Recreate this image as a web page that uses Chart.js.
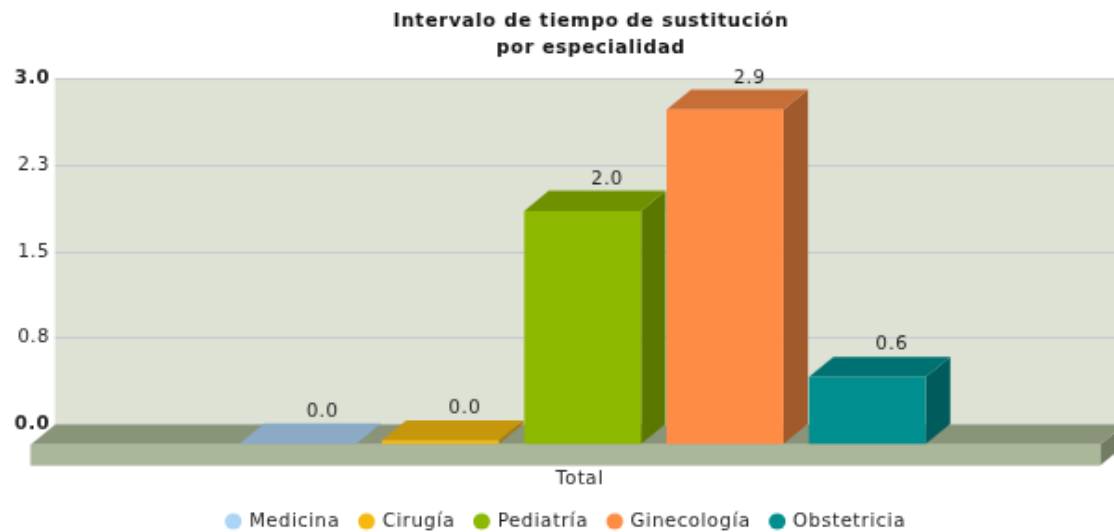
<!DOCTYPE html>
<html><head><meta charset="utf-8">
<style>html,body{margin:0;padding:0;background:#fff;overflow:hidden}canvas{display:block;filter:blur(0.5px)}</style>
<script src="https://cdn.jsdelivr.net/npm/chart.js@4"></script>
</head><body>
<canvas id="c" width="600" height="300"></canvas>
<script>
const categories = ['Total'];
const seriesNames = ['Medicina', 'Cirugía', 'Pediatría', 'Ginecología', 'Obstetricia'];
const medicina = [0.01];
const cirugia = [0.04];
const pediatria = [2.03];
const ginecologia = [2.91];
const obstetricia = [0.59];
const yTickLabels = ['0.0', '0.8', '1.5', '2.3', '3.0'];
const titleLines = ['Intervalo de tiempo de sustitución', 'por especialidad'];

const frontColors = ['#ABD5F7', '#F7B90F', '#8DB800', '#FF8C45', '#008E8E'];
const topColors = ['#8AAAC6', '#C6960C', '#6F9100', '#C76D36', '#007171'];
const sideColors = ['#6E8AA3', '#A07A0A', '#5A7700', '#A05A2B', '#005C5C'];

const DX = 13.2, DY = 11.3, SHIFT = -1;

function poly(ctx, color, pts) {
  ctx.fillStyle = color; ctx.beginPath();
  pts.forEach((p, i) => i ? ctx.lineTo(p[0], p[1]) : ctx.moveTo(p[0], p[1]));
  ctx.closePath(); ctx.fill();
}

const scene = {
  id: 'scene',
  beforeUpdate(chart) {
    chart.ctx.letterSpacing = '0.55px';
  },
  afterLayout(chart) {
    chart.titleBlock.left += 18.3; chart.titleBlock.right += 18.3;
    chart.legend.left += 5; chart.legend.right += 5;
  },
  beforeDraw(chart) {
    const { ctx, chartArea: a } = chart;
    ctx.save();
    ctx.fillStyle = '#fff'; ctx.fillRect(0, 0, chart.width, chart.height);
    ctx.fillStyle = '#DDE2D5'; ctx.fillRect(a.left, a.top, a.right - a.left, a.bottom - a.top);
    ctx.restore();
  },
  beforeDatasetsDraw(chart) {
    const { ctx, chartArea: a } = chart;
    const fl = a.left - DX, fr = a.right - 7.6, ft = a.bottom + DY, fb = ft + 11.8;
    ctx.save();
    poly(ctx, '#8A9479', [[fl, ft], [a.left, a.bottom], [fr + DX, a.bottom], [fr, ft]]);
    poly(ctx, '#737C63', [[fr, ft], [fr + DX, a.bottom], [fr + DX, a.bottom + 11.8], [fr, fb]]);
    ctx.fillStyle = '#ABB799'; ctx.fillRect(fl, ft, fr - fl, fb - ft);
    ctx.restore();
    ctx.save();
    ctx.translate(SHIFT, DY);
    chart.data.datasets.forEach((d, i) => {
      chart.getDatasetMeta(i).data.forEach(el => {
        const l = el.x - el.width / 2, r = el.x + el.width / 2;
        poly(ctx, sideColors[i], [[r, el.y], [r + DX, el.y - DY], [r + DX, el.base - DY], [r, el.base]]);
        poly(ctx, topColors[i], [[l, el.y], [l + DX, el.y - DY], [r + DX, el.y - DY], [r, el.y]]);
      });
    });
  },
  afterDatasetsDraw(chart) {
    const { ctx } = chart;
    ctx.restore();
    ctx.save();
    ctx.font = '10px "DejaVu Sans"'; ctx.fillStyle = '#222';
    ctx.textAlign = 'center'; ctx.textBaseline = 'middle';
    chart.data.datasets.forEach((d, i) => {
      chart.getDatasetMeta(i).data.forEach((el, j) => {
        ctx.fillText(d.data[j].toFixed(1), el.x + SHIFT + DX, el.y - 6.5);
      });
    });
    ctx.restore();
  }
};

const seriesValues = [medicina, cirugia, pediatria, ginecologia, obstetricia];
const chart = new Chart(document.getElementById('c'), {
  type: 'bar',
  plugins: [scene],
  data: {
    labels: categories,
    datasets: seriesNames.map((n, i) => ({
      label: n, data: seriesValues[i], backgroundColor: frontColors[i], borderWidth: 0,
      clip: false, categoryPercentage: 0.672, barPercentage: 0.821
    }))
  },
  options: {
    responsive: false, animation: false, devicePixelRatio: 1,
    font: { family: '"DejaVu Sans"', size: 10 },
    layout: { padding: { left: 0, right: 0, top: 0, bottom: -9 } },
    plugins: {
      tooltip: { enabled: false },
      title: {
        display: true, text: titleLines, color: '#111',
        font: { family: '"DejaVu Sans"', size: 10, weight: 'bold', lineHeight: 1.47 },
        padding: { top: 5.3, bottom: 9.9 }
      },
      legend: {
        position: 'bottom',
        onClick: null,
        labels: {
          usePointStyle: true, boxWidth: 7, boxHeight: 6.4, padding: 10.7,
          color: '#222', font: { family: '"DejaVu Sans"', size: 10 }
        }
      }
    },
    scales: {
      x: {
        grid: { display: false }, border: { display: false },
        ticks: { padding: 17, color: '#222', labelOffset: -2.5, font: { family: '"DejaVu Sans"', size: 10 } },
        afterFit(s) { s.height = 38.8; }
      },
      y: {
        min: 0, max: 3,
        border: { display: false },
        grid: { color: '#C6CAD2', lineWidth: 1, tickLength: 0 },
        afterFit(s) { s.width = 29.6; },
        afterBuildTicks(s) { s.ticks = yTickLabels.map((t, i) => ({ value: i * 0.75 })); },
        ticks: {
          padding: 2.6, color: '#222',
          callback: (v, i) => yTickLabels[i],
          font: c => ({ family: '"DejaVu Sans"', size: 10, weight: (c.index === 0 || c.index === 4) ? 'bold' : 'normal' })
        }
      }
    }
  }
});
const cv = document.getElementById('c');
cv.style.width = '1114px';
cv.style.height = '532px';
</script>
</body></html>
